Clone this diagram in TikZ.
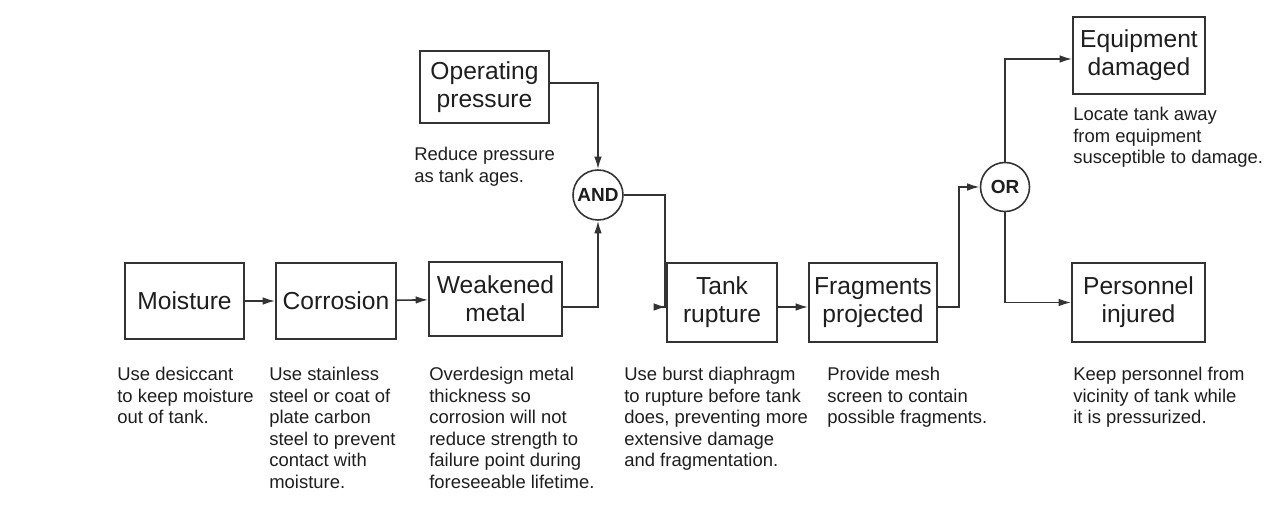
\documentclass[tikz,border=0pt]{standalone}
\usepackage{fontspec}
\setmainfont{Liberation Sans}
\usetikzlibrary{arrows.meta, positioning}
\definecolor{inkgray}{HTML}{333333}
\definecolor{textgray}{HTML}{1e1e1e}

\begin{document}
\begin{tikzpicture}[
  x=0.2mm, y=-0.2mm,
  ev/.style={
    rectangle, draw=inkgray, line width=0.9pt,
    inner sep=0pt, align=center, text=textgray,
    font=\fontsize{14}{16}\selectfont},
  gate/.style={
    circle, draw=inkgray, line width=0.9pt, fill=white,
    minimum size=10mm, inner sep=0pt, text=textgray,
    font=\fontsize{10.8}{12}\selectfont\bfseries},
  note/.style={anchor=north west, inner sep=0pt, align=left, text=textgray,
    font=\fontsize{10.5}{12.24}\selectfont},
  ar/.style={-{Latex[length=2.5mm, width=1.5mm]}, line width=0.9pt, inkgray},
]
  \useasboundingbox (0,0) rectangle (1287,509);

  % events
  \node[ev, minimum width=23.8mm, minimum height=15.2mm] (moist) at (184.5,301)  {Moisture};
  \node[ev, minimum width=24mm,   minimum height=15.2mm] (corr)  at (336,301)    {Corrosion};
  \node[ev, minimum width=26.6mm, minimum height=14.8mm] (weak)  at (495.5,299)  {Weakened\\metal};
  \node[ev, minimum width=25.8mm, minimum height=14.4mm] (oper)  at (484.5,87)   {Operating\\pressure};
  \node[ev, minimum width=22mm,   minimum height=15.8mm] (tank)  at (722,302.5)  {Tank\\rupture};
  \node[ev, minimum width=25.6mm, minimum height=15.8mm] (frag)  at (873,302.5)  {Fragments\\projected};
  \node[ev, minimum width=26.4mm, minimum height=15.4mm] (equip) at (1139,55.5)  {Equipment\\damaged};
  \node[ev, minimum width=26.6mm, minimum height=15.8mm] (pers)  at (1138.5,302.5){Personnel\\injured};

  % gates
  \node[gate] (and) at (598,195)  {AND};
  \node[gate, minimum size=9.8mm] (or) at (1005,187) {OR};

  % safeguards
  \node[note] (moistn) at (117,367)  {Use desiccant\\to keep moisture\\out of tank.};
  \node[note] (corrn)  at (269,367)  {Use stainless\\steel or coat of\\plate carbon\\steel to prevent\\contact with\\moisture.};
  \node[note] (weakn)  at (429,367)  {Overdesign metal\\thickness so\\corrosion will not\\reduce strength to\\failure point during\\foreseeable lifetime.};
  \node[note] (opern)  at (414,147)  {Reduce pressure\\as tank ages.};
  \node[note] (tankn)  at (624,367)  {Use burst diaphragm\\to rupture before tank\\does, preventing more\\extensive damage\\and fragmentation.};
  \node[note] (fragn)  at (827,367)  {Provide mesh\\screen to contain\\possible fragments.};
  \node[note] (equipn) at (1073,107) {Locate tank away\\from equipment\\susceptible to damage.};
  \node[note] (persn)  at (1073,367) {Keep personnel from\\vicinity of tank while\\it is pressurized.};

  % connectors
  \draw[ar] (moist) -- (corr);
  \draw[ar] (corr) -- (weak);
  \draw[ar] ([yshift=-1.6mm]weak.east) -| (and.south);
  \draw[ar] ([yshift=0.8mm]oper.east) -| (and.north);
  \draw[ar] (and.east) -- ++(41,0) |- ([yshift=-0.9mm]tank.west);
  \draw[ar] ([yshift=-0.9mm]tank.east) -- ([yshift=-0.9mm]frag.west);
  \draw[ar] ([yshift=-0.9mm]frag.east) -- ++(21,0) |- (or.west);
  \draw[ar] (or.north) |- ([yshift=-0.7mm]equip.west);
  \draw[ar] (or.south) |- (pers.west);
\end{tikzpicture}
\end{document}
